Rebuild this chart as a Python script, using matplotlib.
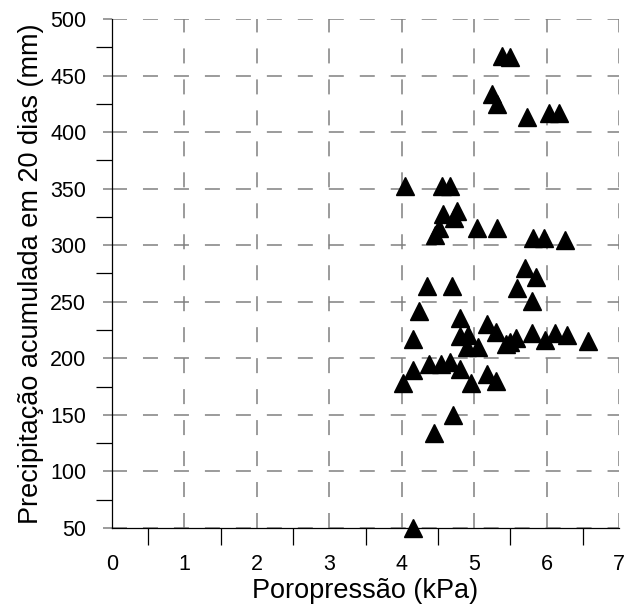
import matplotlib.pyplot as plt
from matplotlib.ticker import MultipleLocator

plt.rcParams['font.family'] = ['Liberation Sans', 'DejaVu Sans']
plt.rcParams['lines.scale_dashes'] = False

# Poropressão (kPa) x Precipitação acumulada em 20 dias (mm)
poropressao = [5.38, 5.49, 5.24, 5.32, 5.73, 6.04, 6.17,
               4.05, 4.55, 4.67, 4.57, 4.77, 4.72, 4.52, 4.46,
               5.04, 5.32, 5.81, 5.96, 6.25, 5.70, 5.85, 5.59,
               4.35, 4.69, 5.80, 4.24, 4.16, 4.81, 4.81, 4.92,
               4.90, 5.06, 5.18, 5.30, 5.44, 5.50, 5.58, 5.80,
               5.98, 6.12, 6.28, 6.57, 4.16, 4.02, 4.37, 4.54,
               4.67, 4.80, 4.96, 5.18, 5.30, 4.71, 4.44, 4.15]
precipitacao = [467, 466, 434, 425, 413, 417, 417,
                352, 352, 352, 328, 330, 324, 315, 309,
                315, 315, 306, 306, 305, 280, 272, 262,
                264, 264, 251, 242, 217, 236, 220, 221,
                210, 210, 230, 223, 213, 214, 218, 222,
                216, 222, 221, 215, 190, 178, 195, 195,
                197, 191, 178, 186, 180, 150, 134, 50]

cor_grade = '#808080'

fig = plt.figure(figsize=(6.24, 6.10), dpi=100)
ax = fig.add_axes([112 / 624, 1 - 528 / 610, 507 / 624, 509 / 610])

ax.plot(poropressao, precipitacao, linestyle='none', marker='^',
        markersize=12.5, color='black', clip_on=False, zorder=3)

ax.set_xlim(0, 7)
ax.set_ylim(50, 500)
ax.xaxis.set_major_locator(MultipleLocator(1))
ax.xaxis.set_minor_locator(MultipleLocator(0.5))
ax.yaxis.set_major_locator(MultipleLocator(50))
ax.yaxis.set_minor_locator(MultipleLocator(25))

ax.grid(True, which='major', color=cor_grade, linewidth=1.1,
        linestyle=(0, (10.8, 11.5)))

for lado in ['top', 'right']:
    ax.spines[lado].set_visible(False)
for lado in ['left', 'bottom']:
    ax.spines[lado].set_linewidth(0.9)
    ax.spines[lado].set_color('black')

ax.tick_params(axis='x', which='major', length=0, pad=19, labelsize=15.5)
ax.tick_params(axis='x', which='minor', direction='out', length=12, width=0.9, color='black')
ax.tick_params(axis='y', which='major', direction='out', length=6.5, width=1.1,
               color=cor_grade, pad=12, labelsize=15.5)
ax.tick_params(axis='y', which='minor', direction='out', length=11.5, width=0.9, color='black')

ax.set_xlabel('Poropressão (kPa)', fontsize=19.5, labelpad=2)
ax.set_ylabel('Precipitação acumulada em 20 dias (mm)', fontsize=19.5, labelpad=4)

plt.savefig('out.png', dpi=100)
plt.close(fig)
